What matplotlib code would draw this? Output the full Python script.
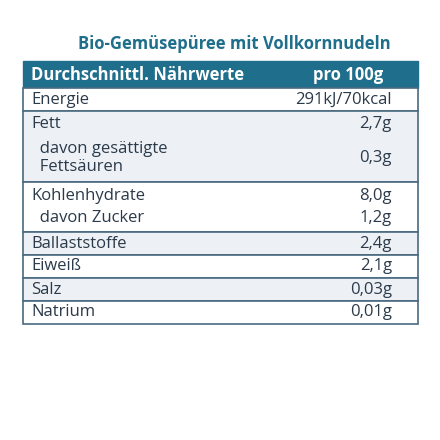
import matplotlib
matplotlib.use("Agg")
import matplotlib.pyplot as plt
from matplotlib.patches import Rectangle

plt.rcParams['font.family'] = ['Open Sans', 'DejaVu Sans']

title = "Bio-Gemüsepüree mit Vollkornnudeln"
header = ["Durchschnittl. Nährwerte", "pro 100g"]
# groups of (label, value) rows
groups = [
    [("Energie", "291kJ/70kcal")],
    [("Fett", "2,7g"), ("  davon gesättigte\n  Fettsäuren", "0,3g")],
    [("Kohlenhydrate", "8,0g"), ("  davon Zucker", "1,2g")],
    [("Ballaststoffe", "2,4g")],
    [("Eiweiß", "2,1g")],
    [("Salz", "0,03g")],
    [("Natrium", "0,01g")],
]

TEAL = "#1f6e8c"
LIGHT = "#edf1f5"
BORDER = "#4a6a80"
TEXT = "#2b3a4a"
FS = 12

fig = plt.figure(figsize=(4.4, 4.4), dpi=100)
ax = fig.add_axes([0, 0, 1, 1])
ax.set_xlim(0, 440)
ax.set_ylim(440, 0)
ax.axis("off")

x0, x1 = 23, 418
xl, xr = 31, 392
ax.text(391, 44, title, ha="right", va="center", fontsize=FS,
        fontweight="bold", color=TEAL)

y = 61
ax.add_patch(Rectangle((x0, y), x1 - x0, 27, facecolor=TEAL, edgecolor=TEAL))
ax.text(xl, y + 13.5, header[0], ha="left", va="center", fontsize=FS,
        fontweight="bold", color="white")
ax.text(383, y + 13.5, header[1], ha="right", va="center", fontsize=FS,
        fontweight="bold", color="white")
y += 27

for i, grp in enumerate(groups):
    heights = [44 if "\n" in lab else 23 for lab, _ in grp]
    h = sum(heights) + (4 if len(grp) > 1 else 0)
    ax.add_patch(Rectangle((x0, y), x1 - x0, h,
                           facecolor=LIGHT if i % 2 else "white",
                           edgecolor=BORDER, linewidth=1.2))
    yy = y + (2 if len(grp) > 1 else 0)
    for (lab, val), rh in zip(grp, heights):
        ax.text(xl, yy + rh / 2, lab, ha="left", va="center", fontsize=FS,
                color=TEXT, linespacing=1.2)
        ax.text(xr, yy + rh / 2, val, ha="right", va="center", fontsize=FS,
                color=TEXT)
        yy += rh
    y += h

fig.savefig("out.png", dpi=100)
